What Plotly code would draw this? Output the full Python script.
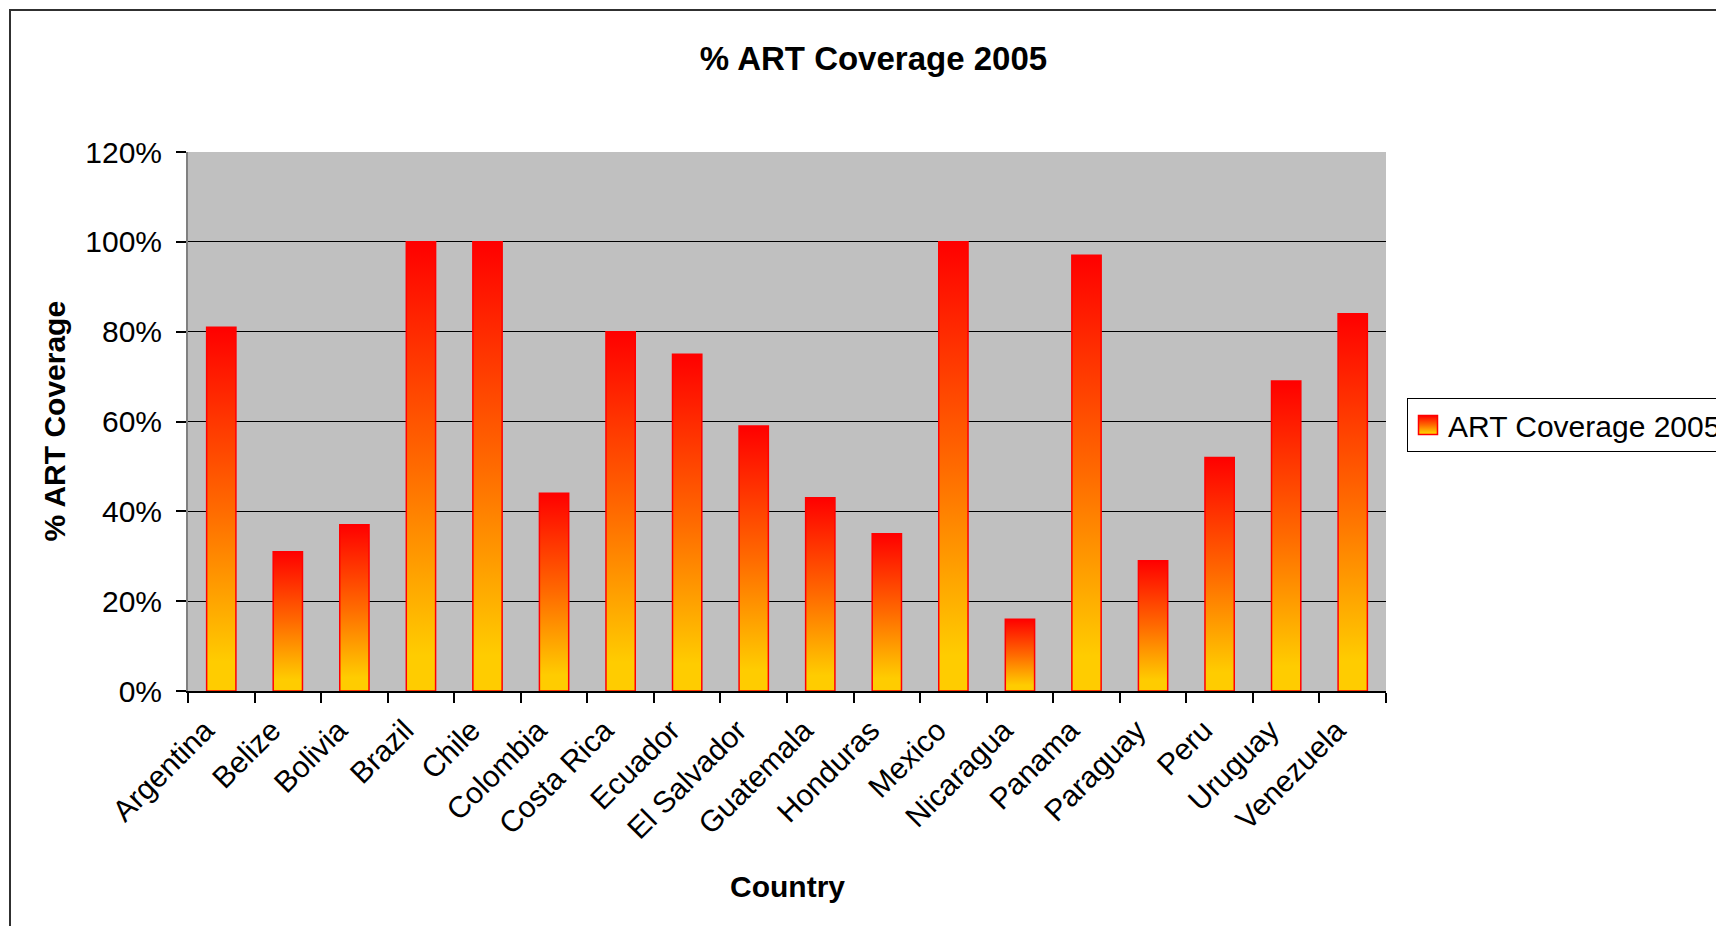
import plotly.graph_objects as go

countries = ["Argentina", "Belize", "Bolivia", "Brazil", "Chile", "Colombia",
             "Costa Rica", "Ecuador", "El Salvador", "Guatemala", "Honduras",
             "Mexico", "Nicaragua", "Panama", "Paraguay", "Peru", "Uruguay",
             "Venezuela"]
coverage = [81, 31, 37, 100, 100, 44, 80, 75, 59, 43, 35, 100, 16, 97, 29, 52, 69, 84]
y_ticks = [0, 20, 40, 60, 80, 100, 120]
y_tick_labels = [f"{v}%" for v in y_ticks]
series_name = "ART Coverage 2005"
chart_title = "% ART Coverage 2005"
x_title = "Country"
y_title = "% ART Coverage"

W, H = 1716, 926
L, R, T, B = 188, 1386, 152, 691
FONT = "Arial, Liberation Sans, sans-serif"

def px_x(p):
    return (p - L) / (R - L)

def px_y(p):
    return (B - p) / (B - T)

fig = go.Figure()
fig.add_trace(go.Bar(
    x=countries, y=coverage, name=series_name,
    marker=dict(color="#FF6600", line=dict(color="#FF0000", width=1.5)),
    showlegend=True,
))

fig.update_layout(
    width=W, height=H,
    margin=dict(l=L, r=W - R, t=T, b=H - B, autoexpand=False),
    paper_bgcolor="white", plot_bgcolor="#C0C0C0",
    font=dict(family=FONT, size=30, color="black"),
    bargap=0.56,
    title=dict(text=chart_title, x=873.5 / W, xref="container", xanchor="center",
               y=1 - 58 / H, yref="container", yanchor="middle",
               font=dict(family=FONT, size=33, color="black", weight="bold")),
    showlegend=True,
    legend=dict(x=px_x(1407), y=px_y(398), xanchor="left", yanchor="top",
                bgcolor="white", bordercolor="black", borderwidth=1,
                font=dict(family=FONT, size=30, color="black")),
    xaxis=dict(showgrid=False, showline=True, linecolor="black", linewidth=1.5,
               ticks="outside", tickson="boundaries", ticklen=10, tickcolor="black",
               tickwidth=1.5, tickangle=-45, automargin=False,
               ticklabelshift=-16, ticklabelstandoff=8,
               tickfont=dict(family=FONT, size=30, color="black")),
    yaxis=dict(range=[0, 120], tickmode="array", tickvals=y_ticks, ticktext=y_tick_labels,
               showgrid=True, gridcolor="black", gridwidth=1, zeroline=False,
               showline=True, linecolor="#808080", linewidth=2,
               ticks="outside", ticklen=10, tickcolor="black", tickwidth=1.5,
               ticklabelstandoff=8, automargin=False,
               tickfont=dict(family=FONT, size=30, color="black")),
)

fig.add_annotation(text=x_title, xref="paper", yref="paper", x=0.5, y=px_y(886),
                   xanchor="center", yanchor="middle", showarrow=False,
                   font=dict(family=FONT, size=30, color="black", weight="bold"))
fig.add_annotation(text=y_title, xref="paper", yref="paper", x=px_x(54), y=0.5,
                   xanchor="center", yanchor="middle", showarrow=False, textangle=-90,
                   font=dict(family=FONT, size=30, color="black", weight="bold"))

# outer chart-area border (cropped at right/bottom as in the reference)
fig.add_shape(type="rect", xref="paper", yref="paper",
              x0=px_x(10), x1=px_x(1760), y0=px_y(960), y1=px_y(10),
              line=dict(color="#303030", width=2), fillcolor="rgba(0,0,0,0)", layer="below")

post = """
document.documentElement.style.margin = '0';
document.body.style.margin = '0';
document.body.style.overflow = 'hidden';
var gd = document.getElementById('{plot_id}');
function applyGrad(){
  var ns = 'http://www.w3.org/2000/svg';
  var svg = gd.querySelector('svg.main-svg');
  if (!svg) return;
  if (!document.getElementById('artgrad')) {
    var defs = svg.querySelector('defs');
    if (!defs) { defs = document.createElementNS(ns, 'defs'); svg.insertBefore(defs, svg.firstChild); }
    var lg = document.createElementNS(ns, 'linearGradient');
    lg.setAttribute('id', 'artgrad');
    lg.setAttribute('x1', '0'); lg.setAttribute('y1', '0');
    lg.setAttribute('x2', '0'); lg.setAttribute('y2', '1');
    [['0', '#FF0000'], ['0.5', '#FF6A00'], ['0.92', '#FFCC00'], ['1', '#FFCC00']].forEach(function(s){
      var st = document.createElementNS(ns, 'stop');
      st.setAttribute('offset', s[0]); st.setAttribute('stop-color', s[1]);
      lg.appendChild(st);
    });
    defs.appendChild(lg);
  }
  gd.querySelectorAll('.barlayer .point path').forEach(function(p){
    p.style.fill = 'url(#artgrad)'; p.style.fillOpacity = 1;
  });
  gd.querySelectorAll('.legend .legendpoints path').forEach(function(p){
    p.style.fill = 'url(#artgrad)'; p.style.fillOpacity = 1;
    p.setAttribute('d', 'M9.5,9.5H-9.5V-9.5H9.5Z');
    p.style.strokeWidth = '1.5px';
  });
}
applyGrad();
gd.on('plotly_afterplot', applyGrad);
"""

fig.write_html("out.html", post_script=post, config={"displayModeBar": False})
